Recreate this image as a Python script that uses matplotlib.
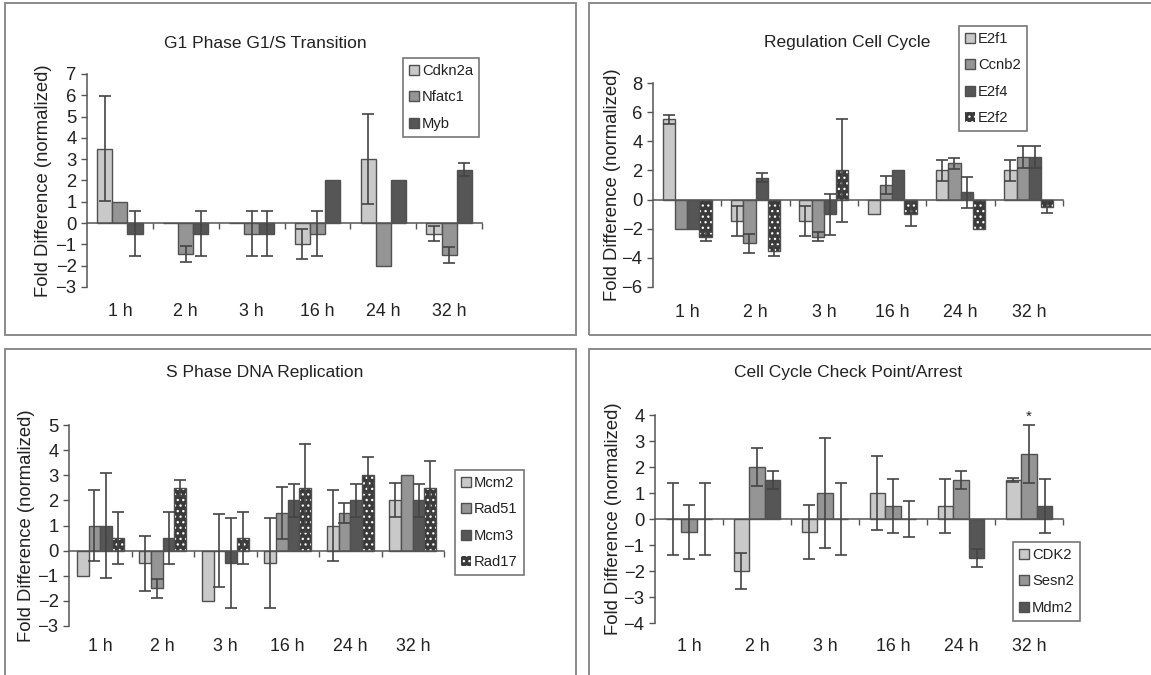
import numpy as np
import matplotlib
matplotlib.use('Agg')
import matplotlib.pyplot as plt
from matplotlib.patches import Rectangle
from matplotlib.transforms import blended_transform_factory

plt.rcParams['font.family'] = ['Liberation Sans', 'DejaVu Sans']
plt.rcParams['hatch.linewidth'] = 0.9

times = ['1 h', '2 h', '3 h', '16 h', '24 h', '32 h']

# G1 Phase G1/S Transition
g1_genes = ['Cdkn2a', 'Nfatc1', 'Myb']
cdkn2a = [3.5, 0, 0, -1, 3, -0.5]
cdkn2a_err = [2.45, 0, 0, 0.7, 2.1, 0.35]
nfatc1 = [1, -1.45, -0.5, -0.5, -2, -1.5]
nfatc1_err = [0, 0.37, 1.05, 1.05, 0, 0.37]
myb = [-0.5, -0.5, -0.5, 2, 2, 2.5]
myb_err = [1.05, 1.05, 1.05, 0, 0, 0.3]

# Regulation Cell Cycle
reg_genes = ['E2f1', 'Ccnb2', 'E2f4', 'E2f2']
e2f1 = [5.5, -1.5, -1.5, -1, 2, 2]
e2f1_err = [0.3, 1.03, 1.03, 0, 0.7, 0.7]
ccnb2 = [-2, -3, -2.55, 1, 2.5, 2.9]
ccnb2_err = [0, 0.67, 0.3, 0.65, 0.37, 0.75]
e2f4 = [-2, 1.5, -1, 2, 0.5, 2.9]
e2f4_err = [0, 0.3, 1.4, 0, 1.05, 0.75]
e2f2 = [-2.55, -3.55, 2, -1, -2, -0.5]
e2f2_err = [0.3, 0.35, 3.55, 0.8, 0, 0.4]

# S Phase DNA Replication
s_genes = ['Mcm2', 'Rad51', 'Mcm3', 'Rad17']
mcm2 = [-1, -0.5, -2, -0.5, 1, 2]
mcm2_err = [0, 1.1, 0, 1.8, 1.4, 0.68]
rad51 = [1, -1.5, 0, 1.5, 1.5, 3]
rad51_err = [1.4, 0.37, 1.45, 1.05, 0.4, 0]
mcm3 = [1, 0.5, -0.5, 2, 2, 2]
mcm3_err = [2.1, 1.05, 1.8, 0.67, 0.67, 0.67]
rad17 = [0.5, 2.5, 0.5, 2.5, 3, 2.5]
rad17_err = [1.05, 0.32, 1.05, 1.75, 0.72, 1.05]

# Cell Cycle Check Point/Arrest
cc_genes = ['CDK2', 'Sesn2', 'Mdm2']
cdk2 = [0, -2, -0.5, 1, 0.5, 1.5]
cdk2_err = [1.4, 0.7, 1.05, 1.43, 1.05, 0.08]
sesn2 = [-0.5, 2, 1, 0.5, 1.5, 2.5]
sesn2_err = [1.05, 0.72, 2.1, 1.05, 0.33, 1.1]
mdm2 = [0, 1.5, 0, 0, -1.5, 0.5]
mdm2_err = [1.4, 0.33, 1.4, 0.7, 0.33, 1.05]

LIGHT = '#c9c9c9'
MID = '#959595'
DARK = '#565656'
DOTS = '#3a3a3a'
EDGE = '#505050'
ERR = '#444444'
TXT = '#222222'


def draw_panel(ax, genes, values, errs, fills, width, yticks, label_y,
               ylabel_x):
    """Grouped bar chart with error bars and axis crossing at zero."""
    x = np.arange(len(times)) + 0.5
    n = len(values)
    for j in range(n):
        pos = x + (j - (n - 1) / 2) * width
        vals = np.asarray(values[j], dtype=float)
        err = np.asarray(errs[j], dtype=float)
        if fills[j] == 'dots':
            ax.bar(pos, vals, width, color=DOTS, edgecolor='white',
                   hatch='...', linewidth=0, label=genes[j], zorder=2)
            ax.bar(pos, vals, width, fill=False, edgecolor=EDGE,
                   linewidth=1, zorder=2)
        else:
            ax.bar(pos, vals, width, color=fills[j], edgecolor=EDGE,
                   linewidth=1, label=genes[j], zorder=2)
        m = err > 0
        ax.errorbar(pos[m], vals[m], yerr=err[m], fmt='none', ecolor=ERR,
                    elinewidth=1.2, capsize=4, capthick=1.2, zorder=3)
    ax.set_xlim(0, len(times))
    ax.set_ylim(yticks[0], yticks[-1])
    ax.set_yticks(yticks)
    for s in ['top', 'right']:
        ax.spines[s].set_visible(False)
    ax.spines['bottom'].set_position(('data', 0))
    for s in ['left', 'bottom']:
        ax.spines[s].set_color('#555555')
        ax.spines[s].set_linewidth(1.1)
    ax.set_xticks(np.arange(1, len(times) + 1))
    ax.set_xticklabels([])
    ax.tick_params(axis='both', direction='out', length=4, width=1,
                   color='#555555', labelsize=13.3, labelcolor=TXT)
    trans = blended_transform_factory(ax.transData, ax.transAxes)
    for i, t in enumerate(times):
        ax.text(x[i], label_y, t, transform=trans, ha='center',
                va='center', fontsize=12.8, color=TXT)
    ax.set_ylabel('Fold Difference (normalized)', fontsize=13.3, color=TXT)
    ax.yaxis.set_label_coords(ylabel_x, 0.5)


def panel_legend(ax, anchor):
    leg = ax.legend(loc='upper left', bbox_to_anchor=anchor,
                    bbox_transform=fig.transFigure, fontsize=10.6,
                    frameon=True, fancybox=False, handlelength=0.7,
                    handleheight=0.7, handletextpad=0.2, labelspacing=0.85,
                    borderpad=0.4, borderaxespad=0)
    leg.get_frame().set_edgecolor('#555555')
    leg.get_frame().set_linewidth(1.2)
    for t in leg.get_texts():
        t.set_color(TXT)
    return leg


fig = plt.figure(figsize=(11.51, 6.75), dpi=100)

# panel borders (pixel positions of the original figure)
W, H = 1151.0, 675.0
for (x0, y0, x1, y1) in [(5, 3, 576, 335), (589, 3, 1160, 335),
                         (5, 349, 576, 690), (589, 349, 1160, 690)]:
    fig.add_artist(Rectangle((x0 / W, 1 - y1 / H), (x1 - x0) / W,
                             (y1 - y0) / H, transform=fig.transFigure,
                             fill=False, edgecolor='#8a8a8a', lw=1.4))

ax1 = fig.add_axes([87 / W, 1 - 287 / H, 395 / W, 213 / H])
draw_panel(ax1, g1_genes, [cdkn2a, nfatc1, myb],
           [cdkn2a_err, nfatc1_err, myb_err], [LIGHT, MID, DARK], 0.23,
           np.arange(-3, 8, 1), -0.117, -0.088)
panel_legend(ax1, (403 / W, 1 - 58 / H))
fig.text(265 / W, 1 - 43 / H, 'G1 Phase G1/S Transition', ha='center',
         va='center', fontsize=12.5, color=TXT)

ax2 = fig.add_axes([653 / W, 1 - 287 / H, 410 / W, 204 / H])
draw_panel(ax2, reg_genes, [e2f1, ccnb2, e2f4, e2f2],
           [e2f1_err, ccnb2_err, e2f4_err, e2f2_err],
           [LIGHT, MID, DARK, 'dots'], 0.18, np.arange(-6, 9, 2), -0.123,
           -0.078)
panel_legend(ax2, (959 / W, 1 - 26 / H))
fig.text(847 / W, 1 - 43 / H, 'Regulation Cell Cycle', ha='center',
         va='center', fontsize=12.5, color=TXT)

ax3 = fig.add_axes([69 / W, 1 - 626 / H, 375 / W, 201 / H])
draw_panel(ax3, s_genes, [mcm2, rad51, mcm3, rad17],
           [mcm2_err, rad51_err, mcm3_err, rad17_err],
           [LIGHT, MID, DARK, 'dots'], 0.187, np.arange(-3, 6, 1), -0.104,
           -0.09)
panel_legend(ax3, (455 / W, 1 - 470 / H))
fig.text(265 / W, 1 - 372 / H, 'S Phase DNA Replication', ha='center',
         va='center', fontsize=12.5, color=TXT)

ax4 = fig.add_axes([655 / W, 1 - 623 / H, 408 / W, 208 / H])
draw_panel(ax4, cc_genes, [cdk2, sesn2, mdm2],
           [cdk2_err, sesn2_err, mdm2_err], [LIGHT, MID, DARK], 0.228,
           np.arange(-4, 5, 1), -0.115, -0.082)
panel_legend(ax4, (1013 / W, 1 - 542 / H))
fig.text(848 / W, 1 - 372 / H, 'Cell Cycle Check Point/Arrest',
         ha='center', va='center', fontsize=12.5, color=TXT)
# significance mark on Sesn2 at 32 h
ax4.text(5.5, sesn2[5] + sesn2_err[5] + 0.35, '*', ha='center',
         va='center', fontsize=11, color=TXT)

fig.savefig('out.png', dpi=100)
